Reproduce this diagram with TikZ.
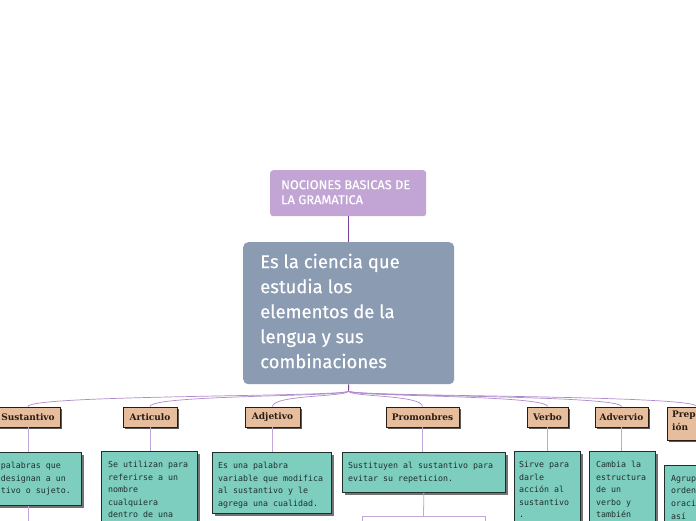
\documentclass[tikz,border=0pt]{standalone}
\usepackage{fontspec}
\newfontfamily\mainsans[FakeBold=0.25]{Fira Sans}
\newfontfamily\labfont{DejaVu Serif}
\newfontfamily\descfont{DejaVu Sans Mono}
\usetikzlibrary{calc,shadows}
\definecolor{mainc}{HTML}{8A9BB2}
\definecolor{topc}{HTML}{C2A5D4}
\definecolor{labc}{HTML}{E6BE9E}
\definecolor{descc}{HTML}{7ECEC0}
\definecolor{fanc}{HTML}{B08BCB}
\definecolor{darkln}{HTML}{7B3F9E}
\definecolor{childln}{HTML}{C4A7DA}
\definecolor{labtxt}{HTML}{2A1A10}
\definecolor{desctxt}{HTML}{1F2F2C}
\tikzset{
  topbox/.style={fill=topc, rounded corners=3pt, anchor=north west, inner sep=0pt},
  mainbox/.style={fill=mainc, rounded corners=5pt, anchor=north west, inner sep=0pt},
  whitetxt/.style={text=white, anchor=north west, inner sep=0pt, align=left},
  labbox/.style={fill=labc, draw=labtxt, line width=0.8pt, inner sep=0pt, text=labtxt,
     font=\labfont\bfseries\fontsize{9pt}{12.5pt}\selectfont,
     drop shadow={shadow xshift=2.2pt, shadow yshift=-2.2pt, fill=black!65, opacity=1}},
  descbox/.style={fill=descc, draw=desctxt, line width=0.7pt, inner sep=0pt, anchor=north west,
     drop shadow={shadow xshift=2.2pt, shadow yshift=-2.2pt, fill=black!55, opacity=1}},
  desctext/.style={anchor=north west, inner sep=0pt, align=left, text=desctxt,
     font=\descfont\fontsize{8.3pt}{12.6pt}\selectfont},
  fan/.style={draw=fanc, line width=0.7pt},
  childline/.style={draw=childln, line width=0.8pt},
}
\begin{document}
\begin{tikzpicture}[x=1pt,y=-1pt]
\useasboundingbox (0,0) rectangle (696,520);
\clip (0,0) rectangle (696,520);
\fill[white] (0,0) rectangle (696,520);

% top node
\node[topbox, minimum width=156pt, minimum height=46pt] (top) at (270,170) {};
\node[whitetxt, font=\mainsans\fontsize{12.8pt}{15pt}\selectfont] (toptxt) at (281,180) {NOCIONES BASICAS DE\\LA GRAMATICA};

% main node
\node[mainbox, minimum width=211pt, minimum height=142pt] (main) at (243,242) {};
\node[whitetxt, font=\mainsans\fontsize{18.5pt}{25pt}\selectfont] (maintxt) at (260,253.5) {Es la ciencia que\\estudia los\\elementos de la\\lengua y sus\\combinaciones};

\draw[darkln, line width=1pt] (top.south) -- (main.north -| top.south);
\coordinate (stem) at (348.5,391);
\draw[darkln, line width=0.9pt] (main.south) -- (stem);

% labels
\node[labbox, minimum width=64pt, minimum height=20pt] (sus) at (28,417) {Sustantivo};
\node[labbox, minimum width=54pt, minimum height=20pt] (art) at (150,417) {Articulo};
\node[labbox, minimum width=55pt, minimum height=20pt] (adj) at (272.5,417) {Adjetivo};
\node[labbox, minimum width=73pt, minimum height=20pt] (pro) at (422.5,417) {Promonbres};
\node[labbox, minimum width=41pt, minimum height=20pt] (ver) at (547.5,417) {Verbo};
\node[labbox, minimum width=53pt, minimum height=20pt] (adv) at (621.5,417) {Advervio};
\node[labbox, minimum width=60pt, minimum height=33pt] (pre) at (697,423.5) {};
\node[anchor=north west, inner sep=0pt, align=left, text=labtxt,
     font=\labfont\bfseries\fontsize{9pt}{12.5pt}\selectfont] (pretxt) at (672,411) {Prep\\ión};

% fan connectors
\foreach \n in {sus,art,adj,pro,ver,adv,pre}{
  \draw[fan] (stem) .. controls ($(stem)+(0,6)$) and ($(\n.north)+(0,-12)$) .. (\n.north);
}

% description boxes
\node[descbox, minimum width=91pt, minimum height=53pt] (susd) at (-10,452) {};
\node[desctext] (sustxt) at (0.8,462) {palabras que\\designan a un\\tivo o sujeto.};

\node[descbox, minimum width=96pt, minimum height=80pt] (artd) at (101,451) {};
\node[desctext] (arttxt) at (108,461) {Se utilizan para\\referirse a un\\nombre\\cualquiera\\dentro de una};

\node[descbox, minimum width=119pt, minimum height=61pt] (adjd) at (212,452) {};
\node[desctext] (adjtxt) at (218,462) {Es una palabra\\variable que modifica\\al sustantivo y le\\agrega una cualidad.};

\node[descbox, minimum width=163pt, minimum height=40pt] (prod) at (342,452) {};
\node[desctext] (protxt) at (348,462) {Sustituyen al sustantivo para\\evitar su repeticion.};

\node[descbox, minimum width=66pt, minimum height=80pt] (verd) at (514,451) {};
\node[desctext] (vertxt) at (519,461) {Sirve para\\darle\\acción al\\sustantivo\\.};

\node[descbox, minimum width=66pt, minimum height=80pt] (advd) at (589,451) {};
\node[desctext] (advtxt) at (596,461) {Cambia la\\estructura\\de un\\verbo y\\también};

\node[descbox, minimum width=60pt, minimum height=70pt] (pred) at (664,465) {};
\node[desctext] (pretxt2) at (671,475) {Agrup\\orden\\oraci\\así};

% label -> description
\foreach \n in {sus,art,adj,pro,ver,adv}{
  \draw[childline] (\n.south) -- (\n.south |- \n d.north);
}

% below descriptions
\coordinate (susbelow) at (28,525);
\draw[childline] (sus.south |- susd.south) -- (susbelow);
\coordinate (pj) at (423.5,516);
\coordinate (pl) at (362,516);
\coordinate (pr) at (485,516);
\coordinate (plb) at (362,525);
\coordinate (prb) at (485,525);
\draw[childline] (prod.south) -- (pj);
\draw[childline] (pl) -- (pr);
\draw[childline] (pl) -- (plb);
\draw[childline] (pr) -- (prb);
\end{tikzpicture}
\end{document}
